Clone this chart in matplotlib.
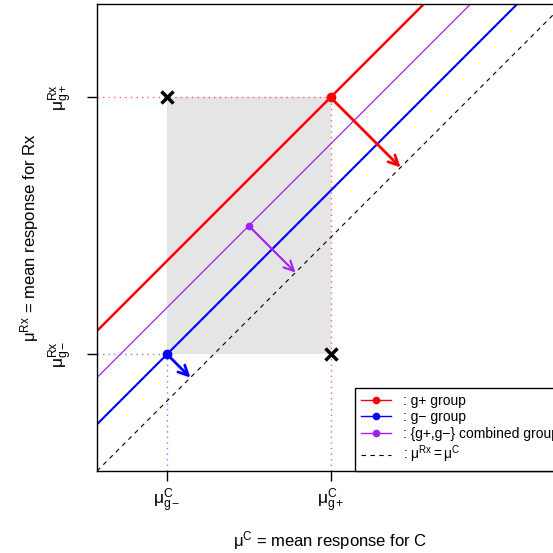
import matplotlib.pyplot as plt
from matplotlib.lines import Line2D

plt.rcParams['font.family'] = ['Liberation Sans', 'DejaVu Sans']
plt.rcParams['mathtext.fontset'] = 'custom'
plt.rcParams['mathtext.rm'] = 'Liberation Sans'
plt.rcParams['mathtext.it'] = 'Liberation Sans'
plt.rcParams['mathtext.default'] = 'regular'

# group means (arbitrary units)
mu_c = [1.5, 5.0]      # g-, g+
mu_rx = [2.5, 8.0]     # g-, g+
mu_c_comb = sum(mu_c) / 2
mu_rx_comb = sum(mu_rx) / 2
lims = [0, 10]

x_labels = [r'$\mu^{C}_{g-}$', r'$\mu^{C}_{g+}$']
y_labels = [r'$\mu^{Rx}_{g-}$', r'$\mu^{Rx}_{g+}$']

fig = plt.figure(figsize=(5.53, 5.53), dpi=100)
ax = fig.add_axes([97/553, 82/553, 467/553, 467/553])
ax.set_xlim(lims)
ax.set_ylim(lims)

# shaded region between the two groups
ax.fill_between([mu_c[0], mu_c[1]], mu_rx[0], mu_rx[1], color='#e5e5e5', lw=0, zorder=0)

# guide lines to the axes
ax.plot([lims[0], mu_c[1]], [mu_rx[1], mu_rx[1]], color='red', alpha=0.6, lw=1, ls=(0, (1, 3)))
ax.plot([mu_c[1], mu_c[1]], [lims[0], mu_rx[1]], color='red', alpha=0.6, lw=1, ls=(0, (1, 3)))
ax.plot([lims[0], mu_c[0]], [mu_rx[0], mu_rx[0]], color='blue', alpha=0.5, lw=1, ls=(0, (1, 3)))
ax.plot([mu_c[0], mu_c[0]], [lims[0], mu_rx[0]], color='blue', alpha=0.5, lw=1, ls=(0, (1, 3)))

# identity line and parallel lines through each group
ax.plot(lims, lims, color='black', lw=0.8, ls=(0, (4, 4)))
xs = [lims[0] - 5, lims[1] + 5]
ax.plot(xs, [x + mu_rx[1] - mu_c[1] for x in xs], color='red', lw=1.8)
ax.plot(xs, [x + mu_rx[0] - mu_c[0] for x in xs], color='blue', lw=1.5)
ax.plot(xs, [x + mu_rx_comb - mu_c_comb for x in xs], color='#a020f0', lw=0.9)

# arrows to the identity line
for cx, cy, col, lw in [(mu_c[1], mu_rx[1], 'red', 2), (mu_c[0], mu_rx[0], 'blue', 2),
                        (mu_c_comb, mu_rx_comb, '#a020f0', 1.5)]:
    m = (cx + cy) / 2
    ax.annotate('', xy=(m, m), xytext=(cx, cy),
                arrowprops=dict(arrowstyle='->,head_length=0.7,head_width=0.35', color=col, lw=lw,
                                shrinkA=0, shrinkB=0))

ax.plot(mu_c[1], mu_rx[1], 'o', color='red', ms=6, zorder=5)
ax.plot(mu_c[0], mu_rx[0], 'o', color='blue', ms=6, zorder=5)
ax.plot(mu_c_comb, mu_rx_comb, 'o', color='#a020f0', ms=4.5, zorder=5)
ax.plot([mu_c[0], mu_c[1]], [mu_rx[1], mu_rx[0]], 'x', color='black', ms=8, mew=2.5, zorder=5)

ax.set_xticks(mu_c)
ax.set_xticklabels(x_labels, fontsize=12.5)
ax.set_yticks(mu_rx)
ax.set_yticklabels(y_labels, fontsize=12.5, rotation=90, va='center')
ax.tick_params(length=7, width=1)
ax.tick_params(axis='x', pad=4)
ax.tick_params(axis='y', pad=9)
for s in ax.spines.values():
    s.set_linewidth(1)

ax.set_xlabel(r'$\mu^{C}$ = mean response for C', fontsize=12, va='center')
ax.xaxis.set_label_coords(0.5, -0.148)
ax.set_ylabel(r'$\mu^{Rx}$ = mean response for Rx', fontsize=12, va='center')
ax.yaxis.set_label_coords(-0.1435, 0.5)

handles = [
    Line2D([], [], color='red', marker='o', ms=4.5, lw=1),
    Line2D([], [], color='blue', marker='o', ms=4.5, lw=1),
    Line2D([], [], color='#a020f0', marker='o', ms=4.5, lw=1),
    Line2D([], [], color='black', lw=0.8, ls=(0, (4, 4))),
]
texts = [': g+ group', ': g\u2212 group', ': {g+,g\u2212} combined group',
         r': $\mu^{Rx} = \mu^{C}$']
leg = ax.legend(handles, texts, loc='lower right', borderaxespad=0, fancybox=False,
                edgecolor='black', fontsize=10, handlelength=2.2, labelspacing=0.2,
                framealpha=1)
leg.get_frame().set_linewidth(1)

fig.savefig('out.png', dpi=100)
